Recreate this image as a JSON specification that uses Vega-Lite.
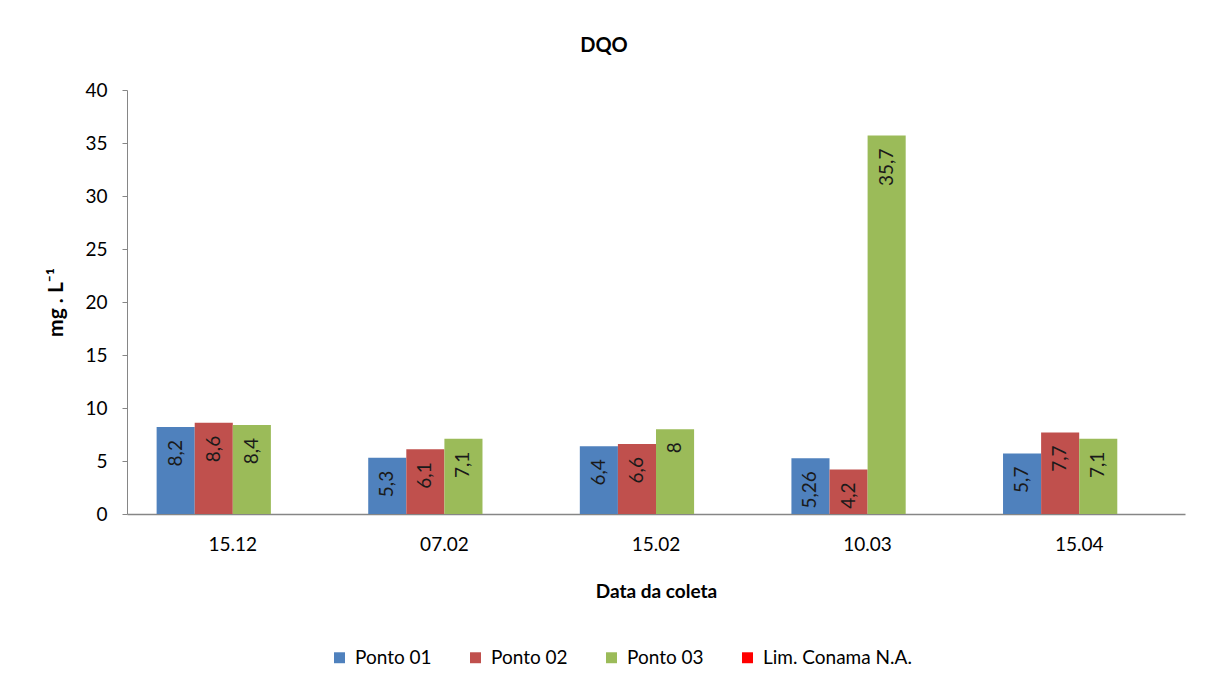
{
  "$schema": "https://vega.github.io/schema/vega-lite/v6.json",
  "width": 1058,
  "height": 424,
  "autosize": {"type": "none"},
  "padding": {"left": 127, "top": 90, "right": 24, "bottom": 170},
  "background": "white",
  "title": {"text": "DQO", "fontSize": 20, "font": "Lato", "fontWeight": "bold", "color": "#000000", "dx": -52, "offset": 25, "anchor": "middle"},
  "data": {"values": [
    {"data": "15.12", "serie": "Ponto 01", "valor": 8.2},
    {"data": "15.12", "serie": "Ponto 02", "valor": 8.6},
    {"data": "15.12", "serie": "Ponto 03", "valor": 8.4},
    {"data": "07.02", "serie": "Ponto 01", "valor": 5.3},
    {"data": "07.02", "serie": "Ponto 02", "valor": 6.1},
    {"data": "07.02", "serie": "Ponto 03", "valor": 7.1},
    {"data": "15.02", "serie": "Ponto 01", "valor": 6.4},
    {"data": "15.02", "serie": "Ponto 02", "valor": 6.6},
    {"data": "15.02", "serie": "Ponto 03", "valor": 8},
    {"data": "10.03", "serie": "Ponto 01", "valor": 5.26},
    {"data": "10.03", "serie": "Ponto 02", "valor": 4.2},
    {"data": "10.03", "serie": "Ponto 03", "valor": 35.7},
    {"data": "15.04", "serie": "Ponto 01", "valor": 5.7},
    {"data": "15.04", "serie": "Ponto 02", "valor": 7.7},
    {"data": "15.04", "serie": "Ponto 03", "valor": 7.1}
  ]},
  "encoding": {
    "x": {
      "field": "data", "type": "nominal", "sort": null,
      "scale": {"paddingInner": 0.28, "paddingOuter": 0.14},
      "axis": {
        "title": "Data da coleta", "labelAngle": 0, "ticks": false, "tickSize": 0,
        "domainColor": "#868686", "domainWidth": 1.5,
        "labelFont": "Lato", "labelFontSize": 19, "labelColor": "#000000", "labelPadding": 21,
        "titleFont": "Lato", "titleFontSize": 19, "titleFontWeight": "bold", "titleColor": "#000000", "titlePadding": 28
      }
    },
    "xOffset": {
      "field": "serie", "type": "nominal",
      "scale": {"domain": ["Ponto 01", "Ponto 02", "Ponto 03", "Lim. Conama N.A."], "paddingInner": 0, "paddingOuter": 0}
    }
  },
  "layer": [
    {
      "mark": {"type": "bar"},
      "encoding": {
        "y": {
          "field": "valor", "type": "quantitative",
          "scale": {"domain": [0, 40], "nice": false},
          "axis": {
            "title": "mg . L⁻¹", "values": [0, 5, 10, 15, 20, 25, 30, 35, 40], "grid": false,
            "domainColor": "#868686", "tickColor": "#868686", "tickSize": 5,
            "labelFont": "Lato", "labelFontSize": 19, "labelColor": "#000000", "labelPadding": 15,
            "titleFont": "Lato", "titleFontSize": 21, "titleFontWeight": "bold", "titleColor": "#000000", "titlePadding": 18
          }
        },
        "color": {
          "field": "serie", "type": "nominal",
          "scale": {"domain": ["Ponto 01", "Ponto 02", "Ponto 03", "Lim. Conama N.A."], "range": ["#4F81BD", "#C0504D", "#9BBB59", "#FF0000"]},
          "legend": {
            "title": null, "orient": "none", "direction": "horizontal", "legendX": 203, "legendY": 558,
            "symbolType": "square", "symbolSize": 120, "symbolStrokeWidth": 0,
            "labelFont": "Lato", "labelFontSize": 19, "labelColor": "#000000", "labelOffset": 6,
            "columnPadding": 34, "labelLimit": 300
          }
        }
      }
    },
    {
      "mark": {"type": "text", "angle": 270, "align": "right", "baseline": "middle", "dx": -13, "font": "Lato", "fontSize": 19, "color": "#1a1a1a"},
      "encoding": {
        "y": {"field": "valor", "type": "quantitative"},
        "text": {"field": "valor", "type": "quantitative", "format": "~g"}
      }
    }
  ],
  "config": {
    "locale": {"number": {"decimal": ",", "thousands": ".", "grouping": [3], "currency": ["", ""]}},
    "view": {"stroke": null}
  }
}
